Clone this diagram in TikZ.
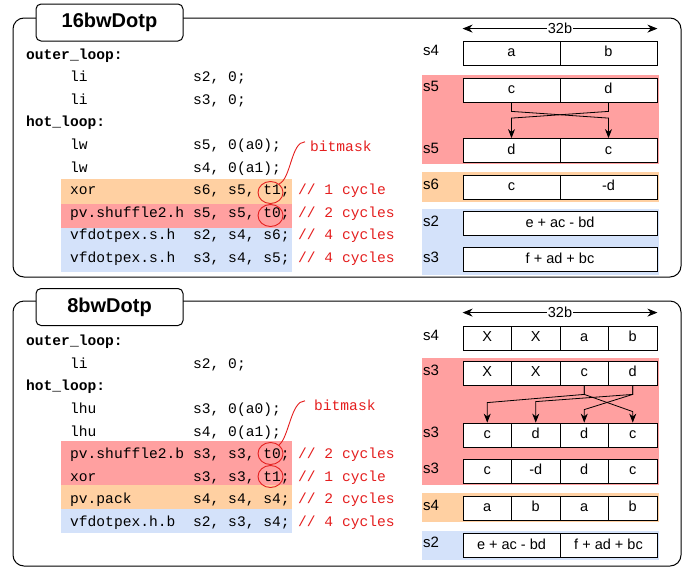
\documentclass[tikz,border=0pt]{standalone}
\usepackage{fontspec}
\setmainfont{Liberation Sans}
\setmonofont{Liberation Mono}
\usetikzlibrary{arrows.meta,shapes.geometric}
\definecolor{shufred}{RGB}{255,160,160}
\definecolor{xororange}{RGB}{255,208,162}
\definecolor{dotblue}{RGB}{212,226,250}
\definecolor{cmtred}{RGB}{228,30,30}
\tikzset{
  panel/.style={draw, line width=1pt, rounded corners=11pt},
  titlebox/.style={draw, fill=white, line width=1pt, rounded corners=5pt, minimum width=147pt, minimum height=37pt, font={\bfseries\fontsize{20}{24}\selectfont}},
  asm/.style={anchor=base west, inner sep=0pt, font={\ttfamily\fontsize{14.6}{17}\selectfont}},
  lbl/.style={asm, font={\ttfamily\bfseries\fontsize{14.6}{17}\selectfont}},
  cmt/.style={asm, text=cmtred},
  reg/.style={anchor=west, inner sep=0pt, text height=10.5pt, text depth=3pt, font={\fontsize{15}{18}\selectfont}},
  cell/.style={draw, fill=white, line width=0.8pt, minimum height=24pt, inner sep=0pt, text height=10.5pt, text depth=3pt, font={\fontsize{14.5}{17}\selectfont}},
  hcell/.style={cell, minimum width=97pt},
  qcell/.style={cell, minimum width=48.5pt},
  wcell/.style={cell, minimum width=194pt},
  mask/.style={draw=cmtred, line width=0.9pt},
  maskring/.style={mask, ellipse, minimum width=25pt, minimum height=22pt, inner sep=0pt},
  flow/.style={-{Stealth[length=9pt,width=7pt]}, line width=0.8pt},
  span/.style={{Stealth[length=10pt,width=8pt]}-{Stealth[length=10pt,width=8pt]}, line width=0.8pt},
}
\begin{document}
\begin{tikzpicture}[x=1pt,y=-1pt]
  \useasboundingbox (0,0) rectangle (698,568);

  % 外框
  \draw[panel] (13,18) rectangle (681,277);
  \draw[panel] (13,301) rectangle (681,566);
  \node[titlebox] (title16) at (109.5,22.5) {16bwDotp};
  \node[titlebox] (title8) at (109.5,307) {8bwDotp};

  % 16bwDotp 代码
  \fill[xororange] (61,179) rectangle (292,204);
  \fill[shufred] (61,204) rectangle (292,228);
  \fill[dotblue] (61,228) rectangle (292,272);
  \node[lbl] (outerA) at (26,59) {outer\_loop:};
  \node[asm] at (70,81.6) {li};            \node[asm] at (193,81.6) {s2, 0;};
  \node[asm] at (70,104.2) {li};           \node[asm] at (193,104.2) {s3, 0;};
  \node[lbl] (hotA) at (26,126.8) {hot\_loop:};
  \node[asm] at (70,149.4) {lw};           \node[asm] at (193,149.4) {s5, 0(a0);};
  \node[asm] at (70,172) {lw};             \node[asm] at (193,172) {s4, 0(a1);};
  \node[asm] at (70,194.6) {xor};          \node[asm] at (193,194.6) {s6, s5, t1;};
  \node[cmt] at (298,194.6) {// 1 cycle};
  \node[asm] at (70,217.2) {pv.shuffle2.h}; \node[asm] at (193,217.2) {s5, s5, t0;};
  \node[cmt] at (298,217.2) {// 2 cycles};
  \node[asm] at (70,239.8) {vfdotpex.s.h}; \node[asm] at (193,239.8) {s2, s4, s6;};
  \node[cmt] at (298,239.8) {// 4 cycles};
  \node[asm] at (70,262.4) {vfdotpex.s.h}; \node[asm] at (193,262.4) {s3, s4, s5;};
  \node[cmt] at (298,262.4) {// 4 cycles};

  % bitmask 标注
  \node[maskring] (ringA1) at (270.5,192.5) {};
  \node[maskring] (ringA0) at (270.5,215.5) {};
  \node[cmt] (maskA) at (310,151) {bitmask};
  \draw[mask] ([xshift=-5pt,yshift=4pt]maskA.west) .. controls +(-14,0) and +(12,-5) .. (ringA1.45);

  % 16bwDotp 寄存器
  \fill[shufred] (422,75) rectangle (659,164);
  \fill[xororange] (422,172) rectangle (659,202);
  \fill[dotblue] (422,209) rectangle (659,275);
  \node[hcell] (a16) at (511.5,53) {a};
  \node[hcell] (b16) at (608.5,53) {b};
  \draw[span] ([yshift=12pt]a16.north west) -- ([yshift=12pt]b16.north east)
    node[midway, fill=white, inner sep=0.5pt, font={\fontsize{14.5}{17}\selectfont}] {32b};
  \node[hcell] (c16) at (511.5,90) {c};
  \node[hcell] (d16) at (608.5,90) {d};
  \node[hcell] (dsw16) at (511.5,150.5) {d};
  \node[hcell] (csw16) at (608.5,150.5) {c};
  \node[hcell] (cx16) at (511.5,187) {c};
  \node[hcell] (dx16) at (608.5,187) {-d};
  \node[wcell] (re16) at (560,223.5) {e + ac - bd};
  \node[wcell] (im16) at (560,259.5) {f + ad + bc};
  \draw[flow] (c16.south) -- ++(0,9) -- ([yshift=20pt]csw16.north) -- (csw16.north);
  \draw[flow] (d16.south) -- ++(0,9) -- ([yshift=20pt]dsw16.north) -- (dsw16.north);
  \node[reg] at (423,52) {s4};
  \node[reg] at (423,88) {s5};
  \node[reg] at (423,150) {s5};
  \node[reg] at (423,186) {s6};
  \node[reg] at (423,223) {s2};
  \node[reg] at (423,259) {s3};

  % 8bwDotp 代码
  \fill[shufred] (61,441) rectangle (292,485);
  \fill[xororange] (61,485) rectangle (292,509);
  \fill[dotblue] (61,509) rectangle (292,533);
  \node[lbl] (outerB) at (26,345.7) {outer\_loop:};
  \node[asm] at (70,368.3) {li};           \node[asm] at (193,368.3) {s2, 0;};
  \node[lbl] (hotB) at (26,390.9) {hot\_loop:};
  \node[asm] at (70,413.5) {lhu};          \node[asm] at (193,413.5) {s3, 0(a0);};
  \node[asm] at (70,436.1) {lhu};          \node[asm] at (193,436.1) {s4, 0(a1);};
  \node[asm] at (70,458.7) {pv.shuffle2.b}; \node[asm] at (193,458.7) {s3, s3, t0;};
  \node[cmt] at (298,458.7) {// 2 cycles};
  \node[asm] at (70,481.3) {xor};          \node[asm] at (193,481.3) {s3, s3, t1;};
  \node[cmt] at (298,481.3) {// 1 cycle};
  \node[asm] at (70,503.9) {pv.pack};      \node[asm] at (193,503.9) {s4, s4, s4;};
  \node[cmt] at (298,503.9) {// 2 cycles};
  \node[asm] at (70,526.5) {vfdotpex.h.b}; \node[asm] at (193,526.5) {s2, s3, s4;};
  \node[cmt] at (298,526.5) {// 4 cycles};

  % bitmask 标注
  \node[maskring] (ringB0) at (270.5,453.5) {};
  \node[maskring] (ringB1) at (270.5,476.5) {};
  \node[cmt] (maskB) at (314,410) {bitmask};
  \draw[mask] ([xshift=-9pt,yshift=4pt]maskB.west) .. controls +(-14,0) and +(10,-8) .. (ringB0.45);

  % 8bwDotp 寄存器
  \fill[shufred] (422,358) rectangle (659,485);
  \fill[xororange] (422,493) rectangle (659,522);
  \fill[dotblue] (422,531) rectangle (659,560);
  \node[qcell] (p1) at (487.25,338) {X};
  \node[qcell] (p2) at (535.75,338) {X};
  \node[qcell] (p3) at (584.25,338) {a};
  \node[qcell] (p4) at (632.75,338) {b};
  \draw[span] ([yshift=13pt]p1.north west) -- ([yshift=13pt]p4.north east)
    node[midway, fill=white, inner sep=0.5pt, font={\fontsize{14.5}{17}\selectfont}] {32b};
  \node[qcell] (q1) at (487.25,373) {X};
  \node[qcell] (q2) at (535.75,373) {X};
  \node[qcell] (q3) at (584.25,373) {c};
  \node[qcell] (q4) at (632.75,373) {d};
  \node[qcell] (r1) at (487.25,435) {c};
  \node[qcell] (r2) at (535.75,435) {d};
  \node[qcell] (r3) at (584.25,435) {d};
  \node[qcell] (r4) at (632.75,435) {c};
  \node[qcell] (u1) at (487.25,471) {c};
  \node[qcell] (u2) at (535.75,471) {-d};
  \node[qcell] (u3) at (584.25,471) {d};
  \node[qcell] (u4) at (632.75,471) {c};
  \node[qcell] (v1) at (487.25,508) {a};
  \node[qcell] (v2) at (535.75,508) {b};
  \node[qcell] (v3) at (584.25,508) {a};
  \node[qcell] (v4) at (632.75,508) {b};
  \node[hcell] (re8) at (511.5,545.5) {e + ac - bd};
  \node[hcell] (im8) at (608.5,545.5) {f + ad + bc};
  \draw[flow] (q3.south) -- ++(0,9) -- ([yshift=20pt]r1.north) -- (r1.north);
  \draw[flow] (q3.south) -- ++(0,9) -- ([yshift=11pt]r4.north) -- (r4.north);
  \draw[flow] (q4.south) -- ++(0,9) -- ([yshift=21pt]r2.north) -- (r2.north);
  \draw[flow] (q4.south) -- ++(0,9) -- ([yshift=13pt]r3.north) -- (r3.north);
  \node[reg] at (423,337) {s4};
  \node[reg] at (423,372) {s3};
  \node[reg] at (423,434) {s3};
  \node[reg] at (423,470) {s3};
  \node[reg] at (423,507) {s4};
  \node[reg] at (423,544) {s2};
\end{tikzpicture}
\end{document}
